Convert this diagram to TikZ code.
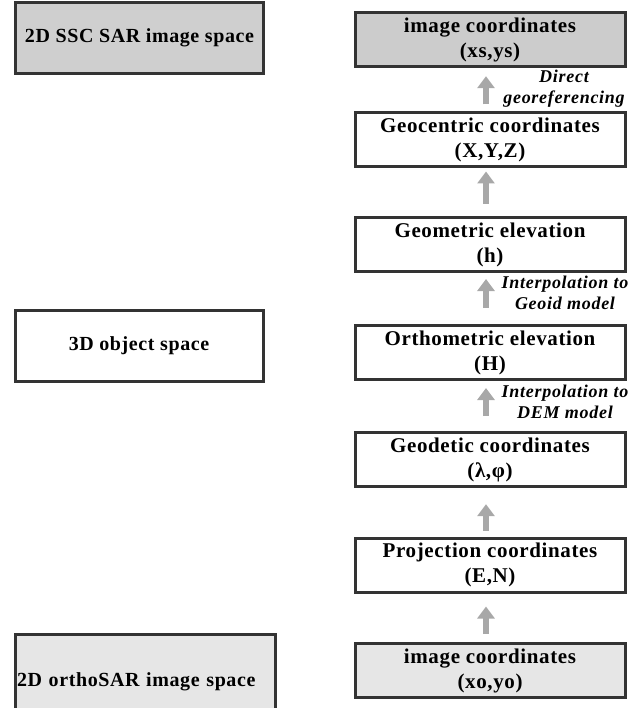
\documentclass[tikz,border=0pt]{standalone}
\usepackage{fontspec}
\setmainfont{Liberation Serif}
\usepackage{xcolor}
\usetikzlibrary{arrows.meta, positioning}
\definecolor{boxline}{HTML}{333333}
\definecolor{sargray}{HTML}{CCCCCC}
\definecolor{orthogray}{HTML}{E6E6E6}
\definecolor{arrgray}{HTML}{A8A8A8}

\begin{document}
\begin{tikzpicture}[
  x=1pt, y=-1pt,
  space/.style={rectangle, draw=boxline, line width=3pt, minimum width=248pt,
    minimum height=71pt, font=\fontsize{20}{24}\selectfont\bfseries\addfontfeature{LetterSpace=3}, align=center},
  coord/.style={rectangle, draw=boxline, line width=3pt, minimum width=270pt,
    minimum height=54pt, inner sep=0pt, font=\fontsize{21}{25}\selectfont\bfseries\addfontfeature{LetterSpace=3}, align=center},
  arr/.style={-{Triangle[width=17pt, length=12pt]}, line width=6.5pt, arrgray},
  lbl/.style={font=\fontsize{18}{21}\selectfont\bfseries\itshape\addfontfeature{LetterSpace=4}, align=center},
]
  \useasboundingbox (0,0) rectangle (642,708);
  \clip (0,0) rectangle (642,708);

  % left column: spaces
  \node[space, fill=sargray!95!white] (ssc) at (139.5,38) {2D SSC SAR image space};
  \node[space] (obj) at (139,346) {3D object space};
  \node[space, fill=orthogray, minimum width=260pt, minimum height=95pt,
    text width=256pt, align=left, inner xsep=1pt] (ortho2d) at (145,682) {2D orthoSAR image space};

  % right column: coordinate systems
  \node[coord, fill=sargray] (imgs) at (490,39.7) {image coordinates\\(xs,ys)};
  \node[coord] (geoc) at (490,140) {Geocentric coordinates\\(X,Y,Z)};
  \node[coord] (geom) at (490,244.5) {Geometric elevation\\(h)};
  \node[coord] (orth) at (490,352.5) {Orthometric elevation\\(H)};
  \node[coord] (geod) at (490,459.7) {Geodetic coordinates\\(λ,φ)};
  \node[coord] (proj) at (490,565) {Projection coordinates\\(E,N)};
  \node[coord, fill=orthogray] (imgo) at (490,670.5) {image coordinates\\(xo,yo)};

  % transformations
  \draw[arr, shorten <=7pt, shorten >=8pt] ([xshift=-4pt]geoc.north) -- ([xshift=-4pt]imgs.south);
  \draw[arr, shorten <=12pt, shorten >=3pt] ([xshift=-4pt]geom.north) -- ([xshift=-4pt]geoc.south);
  \draw[arr, shorten <=16pt, shorten >=6pt] ([xshift=-4pt]orth.north) -- ([xshift=-4pt]geom.south);
  \draw[arr, shorten <=15pt, shorten >=7pt] ([xshift=-4pt]geod.north) -- ([xshift=-4pt]orth.south);
  \draw[arr, shorten <=6pt, shorten >=16pt] ([xshift=-4pt]proj.north) -- ([xshift=-4pt]geod.south);
  \draw[arr, shorten <=8pt, shorten >=13pt] ([xshift=-4pt]imgo.north) -- ([xshift=-4pt]proj.south);

  \node[lbl] (direct) at (564,89) {Direct\\georeferencing};
  \node[lbl] (geoid) at (565,293) {Interpolation to\\Geoid model};
  \node[lbl] (dem) at (565,402) {Interpolation to\\DEM model};
\end{tikzpicture}
\end{document}
